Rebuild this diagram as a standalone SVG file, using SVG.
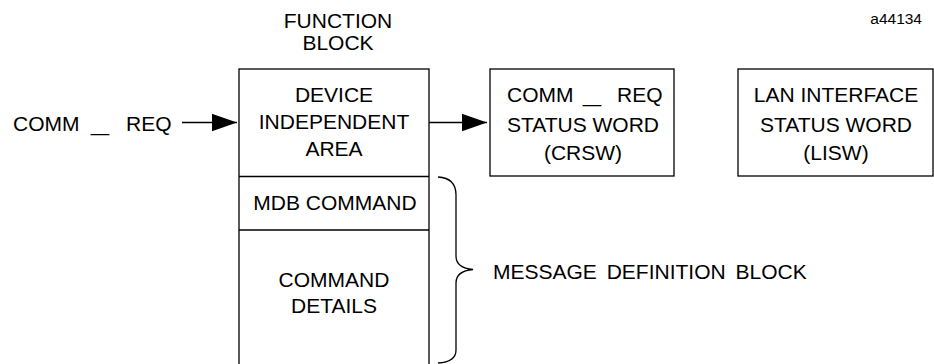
<svg xmlns="http://www.w3.org/2000/svg" width="934" height="364" viewBox="0 0 934 364">
<style>
  text { font-family: "Liberation Sans", Arial, sans-serif; font-size: 21px; fill: #000; }
  .c { text-anchor: middle; }
  .box { fill: #fff; stroke: #000; stroke-width: 1.3; }
  .ln { stroke: #000; stroke-width: 1.3; fill: none; }
</style>
<defs>
  <marker id="ah" markerUnits="userSpaceOnUse" markerWidth="26" markerHeight="18" refX="25" refY="8.7" orient="auto">
    <path d="M0,0 L25,8.7 L0,17.4 Z" fill="#000"/>
  </marker>
</defs>
<rect width="934" height="364" fill="#fff"/>

<g id="title">
  <text class="c" x="338" y="28">FUNCTION</text>
  <text class="c" x="338" y="50">BLOCK</text>
</g>
<text id="figid" x="922" y="24" style="font-size:15.5px;text-anchor:end">a44134</text>

<g id="input">
  <text x="13" y="131">COMM<tspan x="91" textLength="18" lengthAdjust="spacingAndGlyphs">_</tspan><tspan x="126">REQ</tspan></text>
</g>

<g id="function-block">
  <rect class="box" x="239" y="69" width="190" height="300"/>
  <line class="ln" x1="239" y1="176.5" x2="429" y2="176.5"/>
  <line class="ln" x1="239" y1="230" x2="429" y2="230"/>
  <g id="device-independent-area">
    <text class="c" x="334" y="102">DEVICE</text>
    <text class="c" x="334" y="129">INDEPENDENT</text>
    <text class="c" x="334" y="156">AREA</text>
  </g>
  <g id="mdb-command">
    <text class="c" x="335" y="210">MDB COMMAND</text>
  </g>
  <g id="command-details">
    <text class="c" x="334" y="287">COMMAND</text>
    <text class="c" x="334" y="313">DETAILS</text>
  </g>
</g>

<g id="crsw">
  <rect class="box" x="490" y="69" width="184" height="107"/>
  <text x="507" y="102">COMM<tspan x="583" textLength="18" lengthAdjust="spacingAndGlyphs">_</tspan><tspan x="617">REQ</tspan></text>
  <text class="c" x="583" y="132">STATUS WORD</text>
  <text class="c" x="583" y="160">(CRSW)</text>
</g>

<g id="lisw">
  <rect class="box" x="738" y="69" width="195" height="107"/>
  <text class="c" x="836" y="102">LAN INTERFACE</text>
  <text class="c" x="836" y="132">STATUS WORD</text>
  <text class="c" x="836" y="160">(LISW)</text>
</g>

<g id="connectors">
  <line class="ln" x1="182" y1="122.5" x2="237" y2="122.5" marker-end="url(#ah)"/>
  <line class="ln" x1="429" y1="122.5" x2="487" y2="122.5" marker-end="url(#ah)"/>
  <path class="ln" d="M438,177 Q456,178 456,195 L456,256 Q456,268 473,269.5 Q456,271 456,283 L456,350 Q456,362 438,363"/>
</g>

<g id="mdb-label">
  <text x="493" y="279" style="word-spacing:4px">MESSAGE DEFINITION BLOCK</text>
</g>
</svg>
